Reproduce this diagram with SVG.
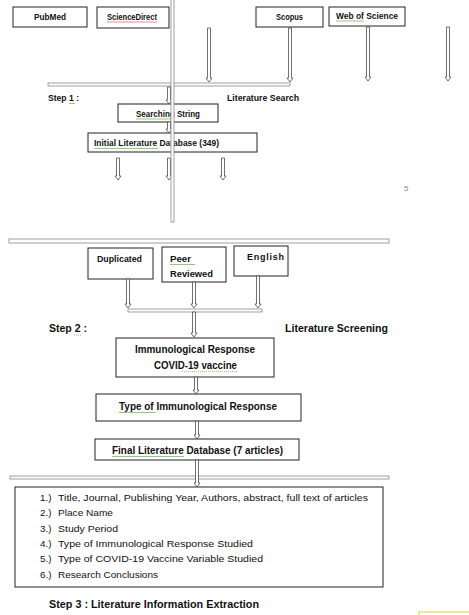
<svg xmlns="http://www.w3.org/2000/svg" width="469" height="615" viewBox="0 0 469 615">
<defs>
<style>
.box{fill:#fff;stroke:#222;stroke-width:1}
.lbl{font-family:"Liberation Sans",Arial,sans-serif;font-weight:bold;font-size:9px;fill:#111}
.step{font-family:"Liberation Sans",Arial,sans-serif;font-weight:bold;font-size:10.5px;fill:#111}
.item{font-family:"Liberation Sans",Arial,sans-serif;font-size:9.8px;fill:#111}
.arr{fill:#fff;stroke:#333;stroke-width:0.7}
.bar{fill:#fff;stroke:#888;stroke-width:0.8}
.sq-g{stroke:#6ab04c;stroke-width:0.7;fill:none}
.sq-r{stroke:#e06060;stroke-width:0.7;fill:none}
</style>
</defs>
<rect width="469" height="615" fill="#fff"/>

<g id="bars">
<rect class="bar" x="48" y="83" width="242" height="3"/>
<rect class="bar" x="9" y="239" width="380" height="4"/>
<rect class="bar" x="128" y="309" width="134" height="3"/>
<rect class="bar" x="10" y="476" width="379" height="3"/>
</g>

<g id="node-pubmed"><rect class="box" x="13" y="7" width="74" height="20"/><text class="lbl" x="34" y="19.5" textLength="32" lengthAdjust="spacingAndGlyphs">PubMed</text></g>
<g id="node-sciencedirect"><rect class="box" x="97" y="7" width="72" height="21"/><text class="lbl" x="107" y="19.5" textLength="50" lengthAdjust="spacingAndGlyphs">ScienceDirect</text><line class="sq-r" x1="107" y1="22" x2="157" y2="22"/></g>
<g id="node-scopus"><rect class="box" x="256" y="7" width="67" height="20"/><text class="lbl" x="276" y="19.5" textLength="27" lengthAdjust="spacingAndGlyphs">Scopus</text></g>
<g id="node-wos"><rect class="box" x="329" y="7" width="76" height="19"/><text class="lbl" x="336" y="18.5" textLength="62" lengthAdjust="spacingAndGlyphs">Web of Science</text><line class="sq-g" x1="336" y1="21" x2="364" y2="21"/></g>

<g id="label-step1"><text class="lbl" x="48" y="101" textLength="31" lengthAdjust="spacingAndGlyphs">Step 1 :</text><line class="sq-g" x1="69" y1="103.5" x2="75" y2="103.5"/><text class="lbl" x="227" y="101" textLength="72" lengthAdjust="spacingAndGlyphs">Literature Search</text></g>

<g id="node-searching"><rect class="box" x="118" y="104" width="100" height="18"/><text class="lbl" x="136" y="116.5" textLength="64" lengthAdjust="spacingAndGlyphs">Searching String</text><line class="sq-g" x1="136" y1="119" x2="172" y2="119"/></g>
<g id="node-initial"><rect class="box" x="88" y="133" width="169" height="19"/><text class="lbl" x="94" y="145.5" textLength="125" lengthAdjust="spacingAndGlyphs">Initial Literature Database (349)</text><line class="sq-g" x1="94" y1="148.5" x2="158" y2="148.5"/></g>

<text x="404" y="191" font-family="Liberation Sans, Arial, sans-serif" font-size="8" fill="#888">5</text>

<g id="node-duplicated"><rect class="box" x="88" y="248" width="65" height="31"/><text class="lbl" x="97" y="262" textLength="45" lengthAdjust="spacingAndGlyphs">Duplicated</text></g>
<g id="node-peer"><rect class="box" x="162" y="247" width="64" height="35"/><text class="lbl" x="170" y="262" textLength="21" lengthAdjust="spacingAndGlyphs">Peer</text><text class="lbl" x="170" y="277" textLength="43" lengthAdjust="spacingAndGlyphs">Reviewed</text><line class="sq-g" x1="170" y1="264.5" x2="195" y2="264.5"/></g>
<g id="node-english"><rect class="box" x="234" y="246" width="54" height="30"/><text class="lbl" x="247" y="260" textLength="37" lengthAdjust="spacing">English</text></g>

<g id="label-step2"><text class="step" x="49" y="332" textLength="38" lengthAdjust="spacingAndGlyphs">Step 2 :</text><line class="sq-g" x1="74" y1="335" x2="81" y2="335" stroke-dasharray="1,1"/><text class="step" x="285" y="332" textLength="103" lengthAdjust="spacingAndGlyphs">Literature Screening</text></g>

<g id="node-immuno"><rect class="box" x="116" y="338" width="158" height="39"/><text class="step" x="135" y="352.5" textLength="120" lengthAdjust="spacingAndGlyphs">Immunological Response</text><text class="step" x="154" y="368.5" textLength="83" lengthAdjust="spacingAndGlyphs">COVID-19 vaccine</text><line class="sq-g" x1="182" y1="371.5" x2="237" y2="371.5" stroke-dasharray="1,1"/></g>
<g id="node-type"><rect class="box" x="96" y="394" width="205" height="27"/><text class="step" x="119" y="409.5" textLength="158" lengthAdjust="spacingAndGlyphs">Type of Immunological Response</text><line class="sq-g" x1="119" y1="412.5" x2="156" y2="412.5"/></g>
<g id="node-final"><rect class="box" x="95" y="439" width="204" height="21"/><text class="step" x="112" y="453.5" textLength="171" lengthAdjust="spacingAndGlyphs">Final Literature Database (7 articles)</text><line class="sq-g" x1="112" y1="456.5" x2="184" y2="456.5"/></g>

<g id="node-extraction"><rect class="box" x="15" y="487" width="368" height="100"/>
<text class="item" x="40" y="500.5">1.)</text><text class="item" x="58" y="500.5" textLength="310" lengthAdjust="spacingAndGlyphs">Title, Journal, Publishing Year, Authors, abstract, full text of articles</text>
<text class="item" x="40" y="516">2.)</text><text class="item" x="58" y="516" textLength="55" lengthAdjust="spacingAndGlyphs">Place Name</text>
<text class="item" x="40" y="531.5">3.)</text><text class="item" x="58" y="531.5" textLength="60" lengthAdjust="spacingAndGlyphs">Study Period</text>
<text class="item" x="40" y="546.5">4.)</text><text class="item" x="58" y="546.5" textLength="195" lengthAdjust="spacingAndGlyphs">Type of Immunological Response Studied</text>
<text class="item" x="40" y="562">5.)</text><text class="item" x="58" y="562" textLength="205" lengthAdjust="spacingAndGlyphs">Type of COVID-19 Vaccine Variable Studied</text>
<text class="item" x="40" y="577.5">6.)</text><text class="item" x="58" y="577.5" textLength="100" lengthAdjust="spacingAndGlyphs">Research Conclusions</text>
</g>

<g id="label-step3"><text class="step" x="49" y="608" textLength="210" lengthAdjust="spacingAndGlyphs">Step 3 : Literature Information Extraction</text></g>

<g id="connectors">
<path class="arr" d="M207.5 28V78H206L209 82L212 78H210.5V28Z"/>
<path class="arr" d="M288.5 28V78H287L290 82L293 78H291.5V28Z"/>
<path class="arr" d="M366.5 27V77H365L368 81L371 77H369.5V27Z"/>
<path class="arr" d="M446.5 27V77H445L448 81L451 77H449.5V27Z"/>
<path class="arr" d="M167.5 87V100H166L169 104L172 100H170.5V87Z"/>
<path class="arr" d="M167.5 122V129H166L169 133L172 129H170.5V122Z"/>
<path class="arr" d="M116.5 158V176H115L118 180L121 176H119.5V158Z"/>
<path class="arr" d="M167.5 158V176H166L169 180L172 176H170.5V158Z"/>
<path class="arr" d="M221.5 158V176H220L223 180L226 176H224.5V158Z"/>
<path class="arr" d="M126.5 279V304H125L128 308L131 304H129.5V279Z"/>
<path class="arr" d="M192.5 282V304H191L194 308L197 304H195.5V282Z"/>
<path class="arr" d="M256.5 276V304H255L258 308L261 304H259.5V276Z"/>
<path class="arr" d="M192.5 312V333H191L194 337L197 333H195.5V312Z"/>
<path class="arr" d="M194.5 377V390H193L196 394L199 390H197.5V377Z"/>
<path class="arr" d="M195.5 421V435H194L197 439L200 435H198.5V421Z"/>
<path class="arr" d="M195.5 460V483H194L197 487L200 483H198.5V460Z"/>
</g>

<g id="divider">
<rect x="171" y="-1" width="3" height="223" fill="#fff" stroke="#888" stroke-width="0.8"/>
</g>

<rect x="419" y="612" width="60" height="10" fill="none" stroke="#e8c840" stroke-width="1"/>
</svg>
